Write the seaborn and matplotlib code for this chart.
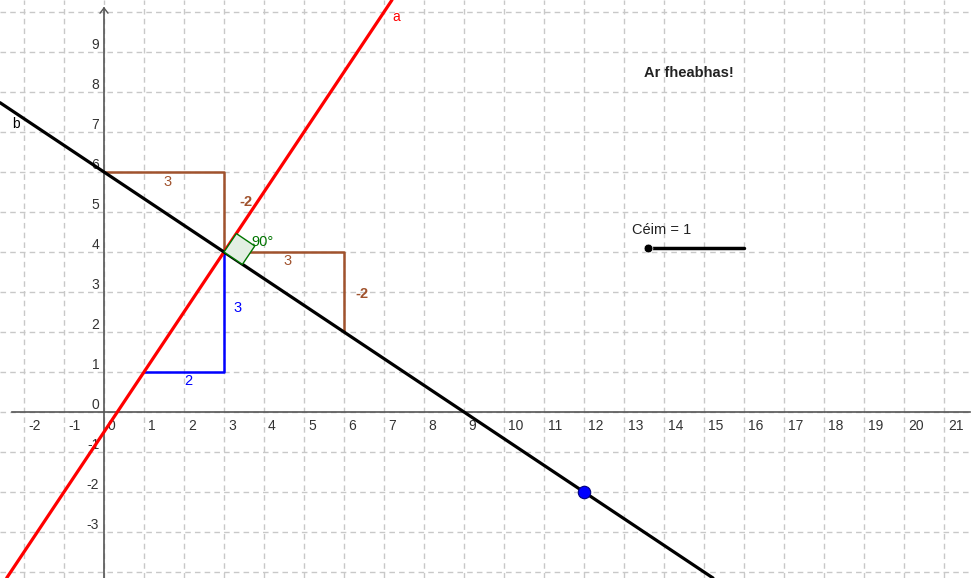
import matplotlib
matplotlib.use("Agg")
import matplotlib.pyplot as plt
from matplotlib.patches import Polygon
import seaborn as sns
import pandas as pd

# línte a agus b (dhá phointe ar gach ceann)
line_a_pts = [(1, 1), (3, 4)]
line_b_pts = [(0, 6), (3, 4)]

# triantáin fána
tri1_x = [0, 3, 3]
tri1_y = [6, 6, 4]
tri2_x = [3, 6, 6]
tri2_y = [4, 4, 2]
tri3_x = [1, 3, 3]
tri3_y = [1, 1, 4]

tri_labels = [
    (1.6, 5.75, "3", "#A0522D"),
    (3.55, 5.25, "-2", "#A0522D"),
    (4.6, 3.78, "3", "#A0522D"),
    (6.45, 2.95, "-2", "#A0522D"),
    (3.35, 2.6, "3", "#0000FF"),
    (2.1, 0.78, "2", "#0000FF"),
]

point_x = [12]
point_y = [-2]

slider_x = [13.6, 16.0]
slider_y = [4.1, 4.1]

x_ticks = list(range(-2, 22))
y_ticks = list(range(-3, 10))

sns.set_theme(style="white")
plt.rcParams['font.family'] = ['Liberation Sans', 'DejaVu Sans']

fig = plt.figure(figsize=(9.71, 5.78), dpi=100)
ax = fig.add_axes([0, 0, 1, 1])
ax.set_xlim(-2.6, 21.675)
ax.set_ylim(-4.15, 10.3)

# greille
for gx in range(-2, 22):
    ax.axvline(gx, color="#c8c8c8", lw=1, ls=(0, (4, 3)), zorder=0)
for gy in range(-4, 11):
    ax.axhline(gy, color="#c8c8c8", lw=1, ls=(0, (4, 3)), zorder=0)

# aiseanna
for s in ["top", "right"]:
    ax.spines[s].set_visible(False)
ax.spines["left"].set_position(("data", 0))
ax.spines["bottom"].set_position(("data", 0))
ax.spines["left"].set_bounds(-4.15, 10.1)
ax.spines["bottom"].set_bounds(-2.3, 21.65)
for s in ["left", "bottom"]:
    ax.spines[s].set_color("#555555")
    ax.spines[s].set_linewidth(1.2)
ax.set_xticks(x_ticks)
ax.set_yticks(y_ticks)
ax.tick_params(axis="both", direction="out", length=3, width=1, color="#555555",
               labelbottom=False, labelleft=False)
ax.plot([-0.1, 0, 0.1], [9.97, 10.1, 9.97], color="#555555", lw=1)

for t in x_ticks:
    ax.text(t + 0.1, -0.35, str(t), ha="left", va="center", fontsize=10, color="#333333")
for t in y_ticks:
    ax.text(-0.12, t + 0.18, str(t), ha="right", va="center", fontsize=10, color="#333333")

# línte
ax.axline(*line_a_pts, color="#FF0000", lw=2.3, zorder=3)
ax.axline(*line_b_pts, color="#000000", lw=2.3, zorder=3)
ax.text(7.2, 9.87, "a", color="#FF0000", fontsize=10, ha="left", va="center")
ax.text(-2.2, 7.2, "b", color="#000000", fontsize=10, ha="center", va="center")

# triantáin
for tx, ty, col in [(tri1_x, tri1_y, "#A0522D"), (tri2_x, tri2_y, "#A0522D"),
                    (tri3_x, tri3_y, "#0000FF")]:
    sns.lineplot(data=pd.DataFrame({"x": tx, "y": ty}), x="x", y="y", sort=False,
                 estimator=None, color=col, lw=1.8, ax=ax, zorder=2)
for lx, ly, txt, col in tri_labels:
    ax.text(lx, ly, txt, color=col, fontsize=10.5, ha="center", va="center",
            fontweight="bold" if txt == "-2" else "normal")

# comhartha dronuillinne
sq = Polygon([(3, 4), (3 + 0.31, 4 + 0.46), (3 + 0.31 + 0.46, 4 + 0.46 - 0.31),
              (3 + 0.46, 4 - 0.31)], closed=True, facecolor="#e3efe3",
             edgecolor="#007500", lw=1, zorder=4)
ax.add_patch(sq)
ax.text(3.68, 4.25, "90°", color="#007500", fontsize=10.5, ha="left", va="center", zorder=5)

# pointe gorm
sns.scatterplot(x=point_x, y=point_y, color="#0000FF", s=80, edgecolor="#000080",
                linewidth=0.8, ax=ax, zorder=6)

# sleamhnán
ax.plot(slider_x, slider_y, color="#000000", lw=2.5, zorder=5)
sns.scatterplot(x=slider_x[:1], y=slider_y[:1], color="#000000", s=40, ax=ax, zorder=6)
ax.text(13.2, 4.55, "Céim = 1", fontsize=10.5, color="#222222", ha="left", va="center")

ax.text(13.5, 8.48, "Ar fheabhas!", fontsize=10.5, fontweight="bold", color="#222222",
        ha="left", va="center")

ax.set_xlabel("")
ax.set_ylabel("")
fig.savefig("out.png", dpi=100)
